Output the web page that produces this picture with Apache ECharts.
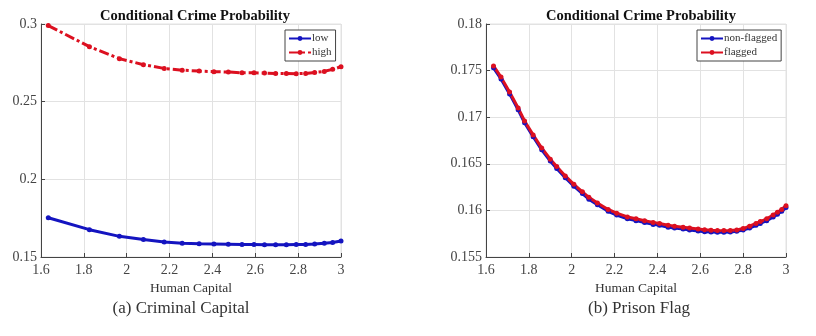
<!DOCTYPE html>
<html><head><meta charset="utf-8">
<script src="https://cdn.jsdelivr.net/npm/echarts@6/dist/echarts.min.js"></script>
<style>html,body{margin:0;padding:0;background:#fff}#c{width:816px;height:336px}</style>
</head><body><div id="c"></div>
<script>
// Panel (a): Criminal Capital
var xA = [1.634,1.826,1.966,2.078,2.175,2.259,2.338,2.407,2.474,2.538,2.594,2.643,2.695,2.745,2.791,2.835,2.877,2.922,2.961,3.0];
var lowA = [0.1753,0.1676,0.1633,0.1612,0.1597,0.1589,0.1585,0.1584,0.1582,0.1580,0.1580,0.1579,0.1579,0.1579,0.1580,0.1581,0.1583,0.1589,0.1594,0.1603];
var highA = [0.2990,0.2854,0.2777,0.2738,0.2714,0.2703,0.2697,0.2693,0.2691,0.2686,0.2686,0.2684,0.2682,0.2682,0.2680,0.2682,0.2688,0.2695,0.2708,0.2725];
// Panel (b): Prison Flag
var xB = [1.635,1.67,1.71,1.75,1.78,1.82,1.86,1.90,1.93,1.97,2.01,2.05,2.08,2.12,2.17,2.21,2.26,2.30,2.34,2.38,2.41,2.45,2.48,2.52,2.55,2.59,2.62,2.65,2.68,2.71,2.74,2.77,2.80,2.83,2.86,2.88,2.91,2.94,2.96,2.98,3.00];
var nonFlagged = [0.1753,0.1741,0.1725,0.1708,0.1694,0.1679,0.1665,0.1653,0.1645,0.1635,0.1626,0.1618,0.1612,0.1606,0.1599,0.1595,0.1591,0.1589,0.1587,0.1585,0.1584,0.1582,0.1581,0.1580,0.1579,0.15778,0.15772,0.15768,0.15765,0.15765,0.15768,0.15775,0.1579,0.1581,0.1584,0.1586,0.1589,0.1593,0.1596,0.1599,0.1603];
var flagged = [0.1755,0.1743,0.1727,0.1710,0.1696,0.1681,0.1667,0.1655,0.1647,0.1637,0.1628,0.1620,0.1614,0.1608,0.1601,0.1597,0.1593,0.1591,0.1589,0.1587,0.1586,0.1584,0.1583,0.1582,0.1581,0.1580,0.15793,0.15788,0.15785,0.15783,0.15785,0.1579,0.15805,0.1583,0.1586,0.1588,0.1591,0.1595,0.1598,0.1601,0.1605];
var xTicks = [1.6,1.8,2,2.2,2.4,2.6,2.8,3];
var titles = ['Conditional Crime Probability','Conditional Crime Probability'];
var captions = ['(a) Criminal Capital','(b) Prison Flag'];
var namesA = ['low','high'];
var namesB = ['non-flagged','flagged'];

function zip(x, y){ return x.map(function(v,i){ return [v, y[i]]; }); }
var FONT = '"Liberation Serif", "DejaVu Serif", serif';
var BLUE = '#1414c0', RED = '#dc1020';

function xAxisCfg(idx){
  return {gridIndex: idx, type:'value', min:xTicks[0], max:xTicks[xTicks.length-1], interval:0.2,
    name:'Human Capital', nameLocation:'middle', nameGap:24,
    nameTextStyle:{fontFamily:FONT, fontSize:13.5, color:'#333'},
    axisLine:{show:true, onZero:false, lineStyle:{color:'#444', width:1}},
    axisTick:{show:true, inside:true, length:4, lineStyle:{color:'#444'}},
    axisLabel:{fontFamily:FONT, fontSize:14, color:'#444', margin:6,
      formatter:function(v){ return String(parseFloat(v.toFixed(2))); }},
    splitLine:{show:true, lineStyle:{color:'#e2e2e2', width:1}}};
}
function yAxisCfg(idx, mn, mx, iv, dec){
  return {gridIndex: idx, type:'value', min:mn, max:mx, interval:iv,
    axisLine:{show:true, onZero:false, lineStyle:{color:'#444', width:1}},
    axisTick:{show:true, inside:true, length:4, lineStyle:{color:'#444'}},
    axisLabel:{fontFamily:FONT, fontSize:14, color:'#444', margin:4,
      formatter:function(v){ return String(parseFloat(v.toFixed(dec))); }},
    splitLine:{show:true, lineStyle:{color:'#e2e2e2', width:1}}};
}
function ser(name, xi, data, color, dash){
  return {name:name, type:'line', xAxisIndex:xi, yAxisIndex:xi, data:data,
    symbol:'circle', symbolSize:5, showSymbol:true, animation:false,
    itemStyle:{color:color}, lineStyle:{color:color, width:3, type: dash || 'solid'}};
}

var chart = echarts.init(document.getElementById('c'), null, {renderer:'canvas'});
chart.setOption({
  backgroundColor:'#fff',
  animation:false,
  title:[
    {text:titles[0], left:190, top:4, textAlign:'center', textStyle:{fontFamily:FONT, fontSize:14.5, fontWeight:'bold', color:'#111'}},
    {text:titles[1], left:636, top:4, textAlign:'center', textStyle:{fontFamily:FONT, fontSize:14.5, fontWeight:'bold', color:'#111'}},
    {text:captions[0], left:176, top:295, textAlign:'center', textStyle:{fontFamily:FONT, fontSize:17, fontWeight:'normal', color:'#333'}},
    {text:captions[1], left:634, top:295, textAlign:'center', textStyle:{fontFamily:FONT, fontSize:17, fontWeight:'normal', color:'#333'}}
  ],
  legend:[
    {data:namesA, orient:'vertical', left:285, top:30, itemWidth:22, itemHeight:6, itemGap:3,
     padding:[3,4,3,3], borderColor:'#444', borderWidth:1, backgroundColor:'#fff',
     textStyle:{fontFamily:FONT, fontSize:11, color:'#333', padding:[0,0,0,-4]}},
    {data:namesB, orient:'vertical', left:697, top:30, itemWidth:22, itemHeight:6, itemGap:3,
     padding:[3,4,3,3], borderColor:'#444', borderWidth:1, backgroundColor:'#fff',
     textStyle:{fontFamily:FONT, fontSize:11, color:'#333', padding:[0,0,0,-4]}}
  ],
  grid:[
    {left:41, top:24, width:300, height:233, show:true, borderColor:'#e2e2e2', borderWidth:1, backgroundColor:'#fff'},
    {left:486, top:24, width:300, height:233, show:true, borderColor:'#e2e2e2', borderWidth:1, backgroundColor:'#fff'}
  ],
  xAxis:[xAxisCfg(0), xAxisCfg(1)],
  yAxis:[yAxisCfg(0, 0.15, 0.3, 0.05, 2), yAxisCfg(1, 0.155, 0.18, 0.005, 3)],
  series:[
    ser(namesA[0], 0, zip(xA, lowA), BLUE),
    ser(namesA[1], 0, zip(xA, highA), RED, [10,3,3,3]),
    ser(namesB[0], 1, zip(xB, nonFlagged), BLUE),
    ser(namesB[1], 1, zip(xB, flagged), RED)
  ]
});
</script></body></html>
